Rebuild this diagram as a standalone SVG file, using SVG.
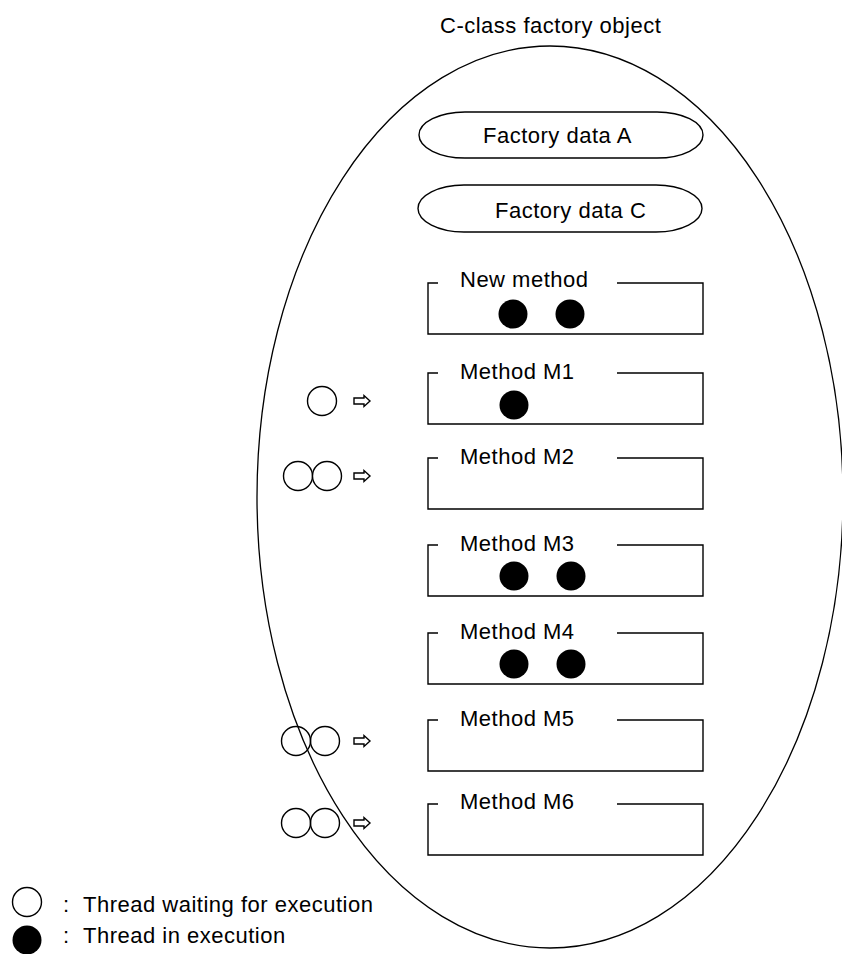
<svg xmlns="http://www.w3.org/2000/svg" xmlns:xlink="http://www.w3.org/1999/xlink" width="842" height="954" viewBox="0 0 842 954">
<style>
text{font-family:"Liberation Sans",Arial,sans-serif;font-size:22px;fill:#000;letter-spacing:0.5px}
.ln{fill:none;stroke:#000;stroke-width:1.4}
.pill{fill:#fff;stroke:#000;stroke-width:1.4}
.run{fill:#000}
.wait{fill:#fff;stroke:#000;stroke-width:1.4}
.arr{fill:#fff;stroke:#000;stroke-width:1.4;stroke-linejoin:miter}
</style>
<defs>
<path id="box" class="ln" d="M438,0 H428 V51 H703 V0 H617"/>
<path id="arrow" class="arr" d="M0,-3 H10 V-5.5 L16,0 L10,5.5 V3 H0 Z"/>
</defs>
<rect width="842" height="954" fill="#fff"/>
<g id="factory-object">
<ellipse cx="550" cy="497" rx="293" ry="451" fill="none" stroke="#000" stroke-width="1.3"/>
<text x="440" y="33">C-class factory object</text>
</g>
<g id="factory-data-a">
<rect class="pill" x="419" y="112" width="284" height="46" rx="46" ry="23"/>
<text x="483" y="143">Factory data A</text>
</g>
<g id="factory-data-c">
<rect class="pill" x="418" y="185" width="284" height="47" rx="46" ry="23.5"/>
<text x="495" y="218">Factory data C</text>
</g>
<g id="new-method">
<use xlink:href="#box" y="283"/>
<text x="460" y="287">New method</text>
<circle class="run" cx="513" cy="314" r="14.5"/>
<circle class="run" cx="570" cy="314" r="14.5"/>
</g>
<g id="method-m1">
<use xlink:href="#box" y="373"/>
<text x="460" y="379">Method M1</text>
<circle class="run" cx="514" cy="405" r="14.5"/>
</g>
<g id="method-m2">
<use xlink:href="#box" y="458"/>
<text x="460" y="464">Method M2</text>
</g>
<g id="method-m3">
<use xlink:href="#box" y="545"/>
<text x="460" y="551">Method M3</text>
<circle class="run" cx="514" cy="576" r="14.5"/>
<circle class="run" cx="571" cy="576" r="14.5"/>
</g>
<g id="method-m4">
<use xlink:href="#box" y="633"/>
<text x="460" y="639">Method M4</text>
<circle class="run" cx="514" cy="664" r="14.5"/>
<circle class="run" cx="571" cy="664" r="14.5"/>
</g>
<g id="method-m5">
<use xlink:href="#box" y="720"/>
<text x="460" y="726">Method M5</text>
</g>
<g id="method-m6">
<use xlink:href="#box" y="804"/>
<text x="460" y="809">Method M6</text>
</g>
<g id="waiting-m1">
<circle class="wait" cx="322" cy="401" r="14.5"/>
</g>
<g id="waiting-m2">
<circle class="wait" cx="298" cy="476" r="14.5"/>
<circle class="wait" cx="327" cy="476" r="14.5"/>
</g>
<g id="waiting-m5">
<circle class="wait" cx="296" cy="741" r="14.5" fill-opacity="0"/>
<circle class="wait" cx="325" cy="741" r="14.5" fill-opacity="0"/>
</g>
<g id="waiting-m6">
<circle class="wait" cx="296" cy="823" r="14.5" fill-opacity="0"/>
<circle class="wait" cx="325" cy="823" r="14.5" fill-opacity="0"/>
</g>
<g id="connectors">
<use xlink:href="#arrow" x="354" y="401"/>
<use xlink:href="#arrow" x="354" y="476"/>
<use xlink:href="#arrow" x="354" y="741"/>
<use xlink:href="#arrow" x="354" y="823"/>
</g>
<g id="legend">
<circle class="wait" cx="27" cy="902" r="14.5"/>
<text x="63" y="912">:</text>
<text x="83" y="912">Thread waiting for execution</text>
<circle class="run" cx="27" cy="940" r="14.5"/>
<text x="63" y="943">:</text>
<text x="83" y="943">Thread in execution</text>
</g>
</svg>
